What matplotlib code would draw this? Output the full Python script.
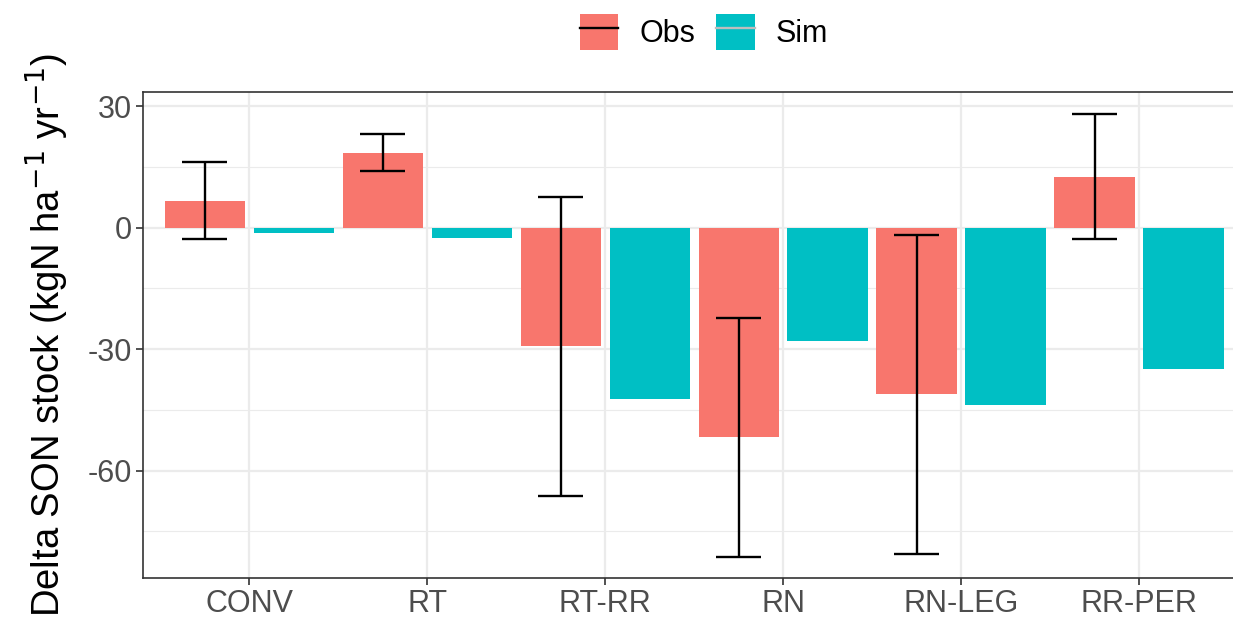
import numpy as np
import matplotlib
matplotlib.use("Agg")
from matplotlib import pyplot as plt
from matplotlib.patches import Patch
from matplotlib.lines import Line2D

plt.rcParams['font.family'] = ['Liberation Sans', 'DejaVu Sans']

# treatments and values (kgN ha-1 yr-1)
treatments = ['CONV', 'RT', 'RT-RR', 'RN', 'RN-LEG', 'RR-PER']
obs = [6.5, 18.4, -29.3, -51.7, -41.1, 12.5]
obs_hi = [16.2, 23.1, 7.5, -22.3, -1.9, 28.0]
obs_lo = [-2.8, 14.0, -66.3, -81.4, -80.6, -2.8]
sim = [-1.4, -2.6, -42.3, -28.0, -43.8, -34.9]

c_obs = '#F8766D'
c_sim = '#00BFC4'

fig = plt.figure(figsize=(12.33, 6.19), dpi=100)
ax = fig.add_axes([143/1233, 41/619, 1 - 143/1233, (578-92)/619])

x = np.arange(len(treatments))
ax.bar(x - 0.25, obs, width=0.45, color=c_obs, zorder=2)
ax.bar(x + 0.25, sim, width=0.45, color=c_sim, zorder=2)

# error bars on obs
ax.vlines(x - 0.25, obs_lo, obs_hi, color='black', lw=1.7, zorder=3)
ax.hlines(obs_hi, x - 0.375, x - 0.125, color='black', lw=1.7, zorder=3)
ax.hlines(obs_lo, x - 0.375, x - 0.125, color='black', lw=1.7, zorder=3)

ax.set_xlim(-0.596, 5.528)
ax.set_ylim(-86.5, 33.5)
ax.set_xticks(x)
ax.set_xticklabels(treatments)
ax.set_yticks([30, 0, -30, -60])
ax.set_yticklabels(['30', '0', '-30', '-60'])
ax.set_yticks([15, -15, -45, -75], minor=True)

ax.grid(True, which='major', color='#EBEBEB', lw=1.6, zorder=0)
ax.grid(True, which='minor', axis='y', color='#EBEBEB', lw=0.8, zorder=0)
ax.set_axisbelow(True)
ax.tick_params(which='major', length=5, width=1.2, color='#333333',
               labelsize=22, labelcolor='#4D4D4D', pad=3)
ax.tick_params(which='minor', length=0)

for s in ['left', 'top', 'bottom']:
    ax.spines[s].set_color('#333333')
    ax.spines[s].set_linewidth(1.2)
ax.spines['right'].set_visible(False)

ax.set_ylabel('Delta SON stock (kgN ha$^{-1}$ yr$^{-1}$)', fontsize=27.5)
ax.yaxis.set_label_coords(-0.066, 0.5)

h_obs = (Patch(facecolor=c_obs), Line2D([], [], color='black', lw=1.7))
h_sim = (Patch(facecolor=c_sim), Line2D([], [], color='#BEBEBE', lw=1.7))
fig.legend([h_obs, h_sim], ['Obs', 'Sim'], loc='center',
           bbox_to_anchor=(704/1233, 1 - 32/619), ncol=2, frameon=False,
           fontsize=22, handlelength=1.25, handleheight=1.45,
           handletextpad=0.7, columnspacing=0.7)

fig.savefig('out.png', dpi=100)
